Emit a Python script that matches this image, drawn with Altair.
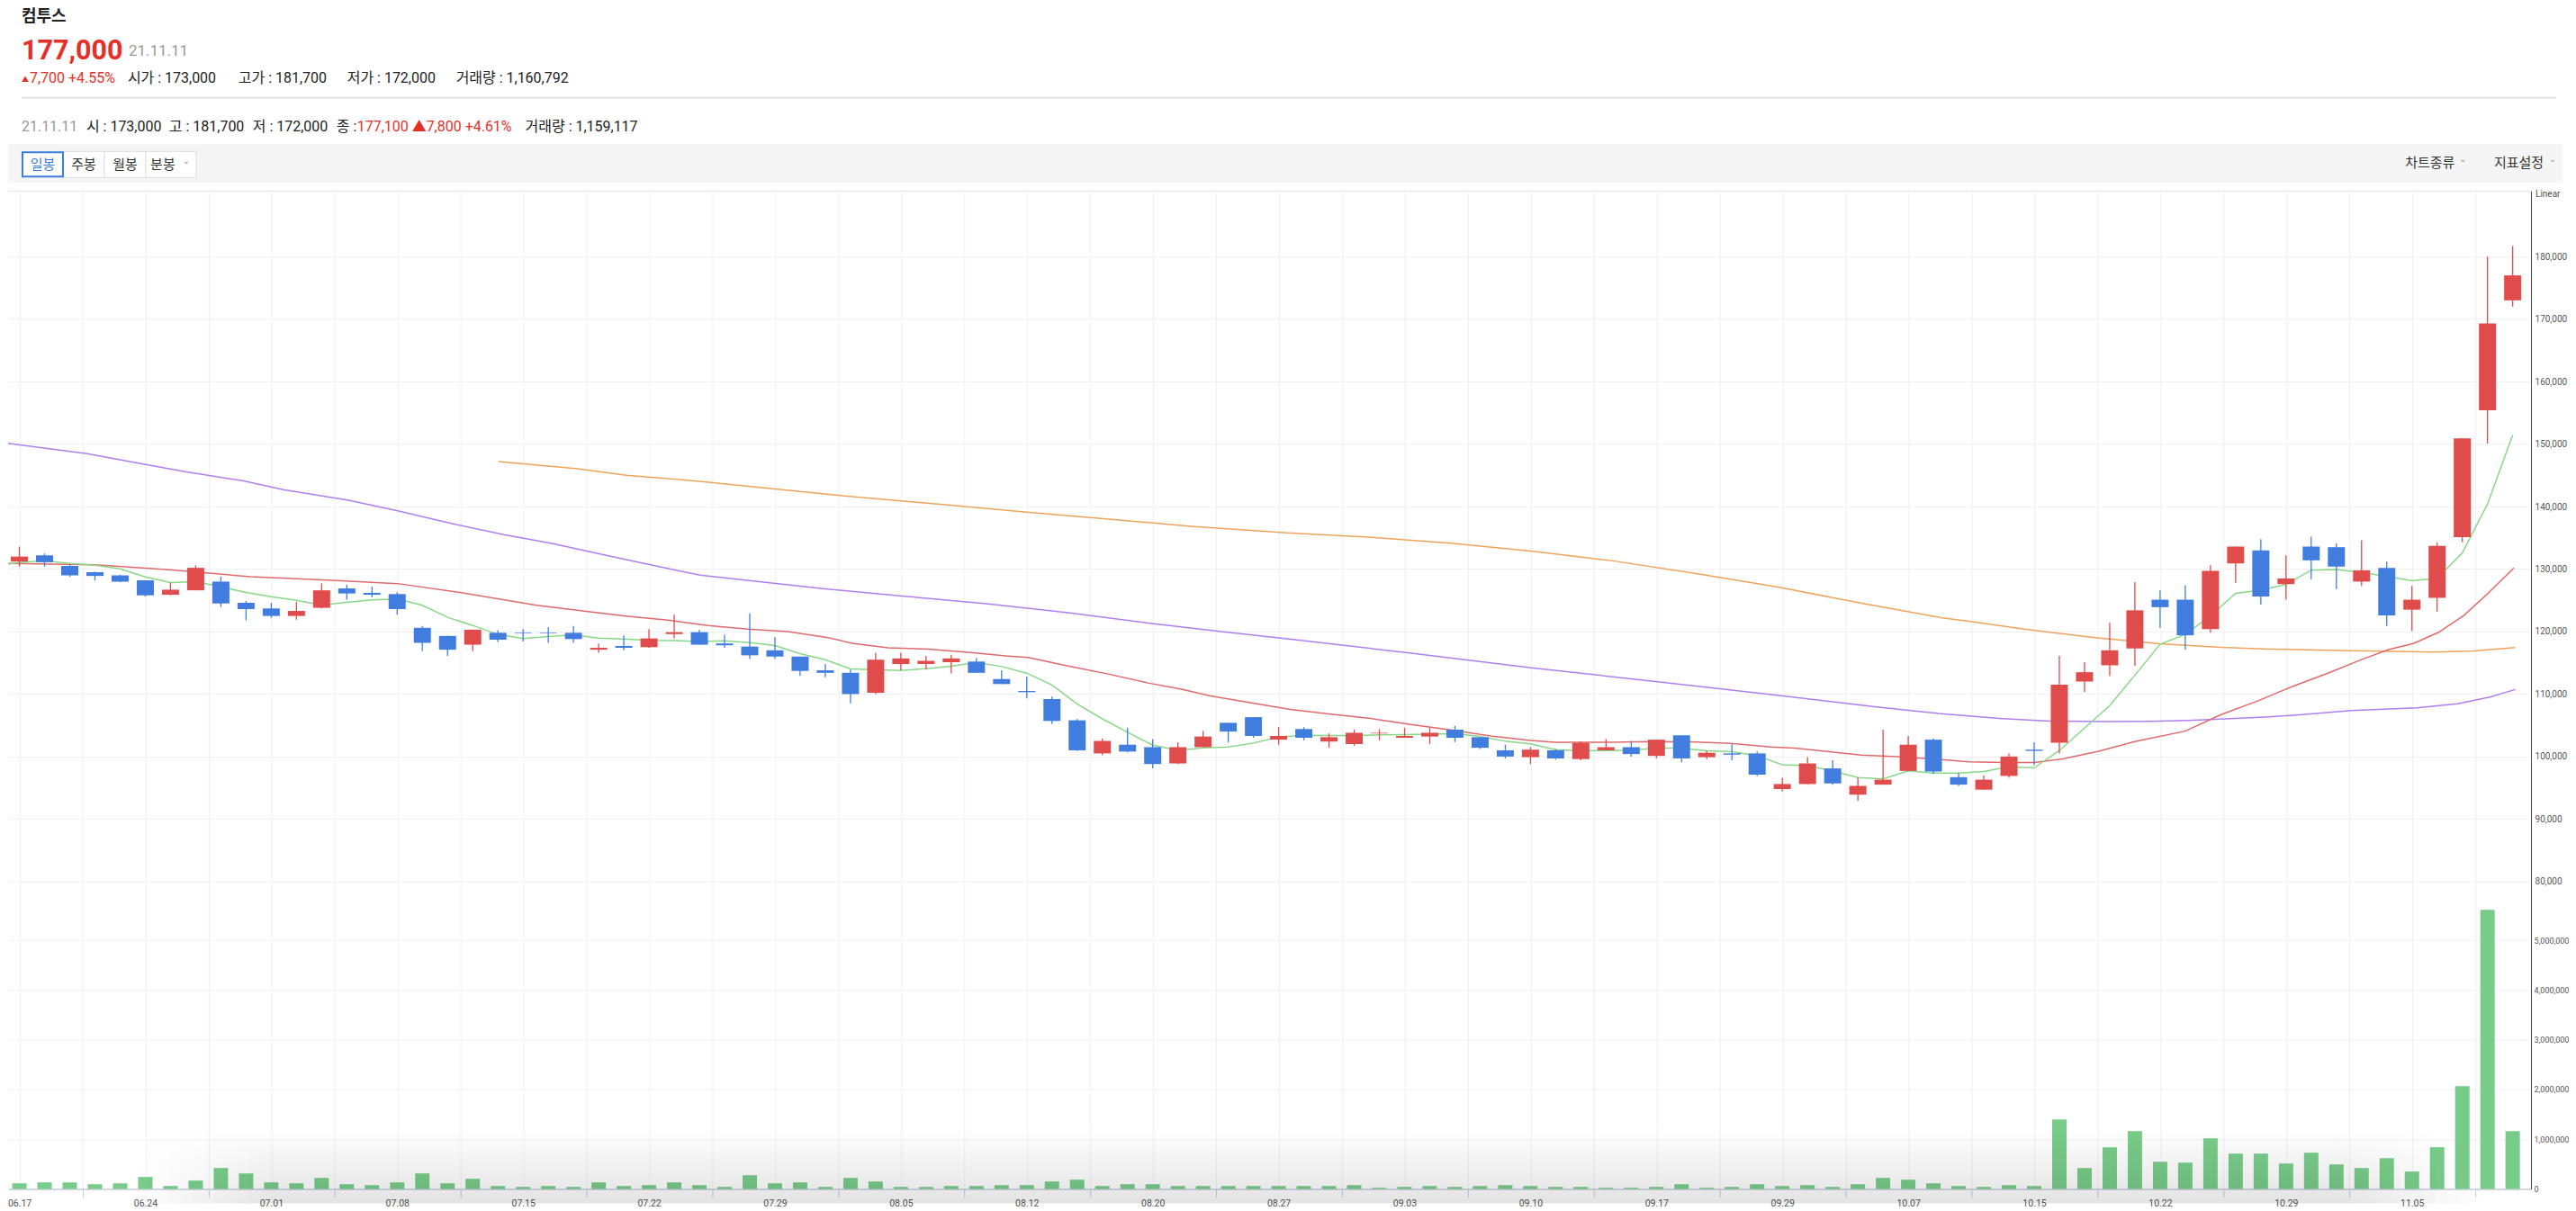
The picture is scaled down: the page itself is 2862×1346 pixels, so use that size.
import altair as alt
import pandas as pd
import numpy as np

# ---------------- data ----------------
opens = [131200, 132200, 130500, 129500, 129000, 128200, 125900, 126600, 128000, 124600,
         123700, 122500, 123800, 126900, 126200, 126000, 120600, 119300, 117900, 119800,
         119800, 119800, 119800, 117100, 117700, 117500, 119600, 119900, 118100, 117600,
         117000, 116000, 113800, 113400, 110200, 114800, 114800, 115100, 115200, 112400,
         110500, 109200, 105800, 100500, 101900, 101500, 98900, 101500, 105400, 106300,
         102700, 104400, 102400, 102000, 103700, 103000, 103200, 104300, 103100, 101000,
         99900, 101000, 99600, 101000, 101500, 100100, 103400, 99900, 100500, 100500,
         94800, 95600, 98100, 93900, 95500, 97700, 102700, 96700, 94700, 96900,
         101100, 102200, 112000, 114600, 117300, 125100, 125100, 120400, 130900, 133000,
         127600, 133600, 133500, 128000, 130200, 123500, 125400, 135100, 155400, 173000]
highs = [133600, 132500, 130700, 129600, 129100, 128200, 127800, 130600, 128800, 124900,
         124600, 124800, 127700, 127500, 127200, 126300, 120900, 119300, 120300, 120200,
         120400, 120700, 120900, 118100, 119400, 120400, 122700, 120300, 119500, 122900,
         119100, 116000, 114800, 113900, 116600, 116600, 116100, 116300, 115800, 113800,
         112800, 109600, 106000, 102900, 104600, 102800, 102300, 104100, 105400, 106300,
         104700, 104700, 103700, 104300, 104400, 104600, 104600, 104900, 103100, 101900,
         101500, 101200, 102400, 102800, 102500, 102700, 103400, 101000, 102000, 100800,
         96600, 99900, 99400, 96600, 104300, 103300, 102900, 97400, 97000, 100500,
         102300, 116100, 115100, 121400, 127900, 126600, 127400, 130600, 133600, 134800,
         132200, 135200, 134100, 134600, 131200, 127300, 134300, 150900, 180000, 181700]
lows = [130400, 130400, 128800, 128200, 127900, 125600, 125800, 126600, 123900, 121800,
        122200, 121900, 123700, 125100, 125500, 122700, 116900, 116100, 116900, 118300,
        118400, 118200, 118200, 116600, 117000, 117400, 118900, 117900, 117400, 115600,
        115600, 112900, 112700, 108500, 110000, 113800, 113900, 113300, 113400, 111600,
        109300, 105200, 100900, 100200, 100700, 98100, 98800, 101500, 102300, 103000,
        101900, 102600, 101400, 101700, 102600, 103000, 102000, 102300, 101200, 99700,
        98800, 99500, 99400, 101000, 100000, 99700, 99100, 99600, 99400, 96900,
        94400, 95500, 95500, 92900, 95500, 97700, 97200, 95300, 94700, 96600,
        98600, 100500, 110300, 112900, 114500, 120600, 117100, 119800, 127800, 124300,
        125100, 128400, 126800, 127300, 120900, 120100, 123200, 134300, 150100, 172000]
closes = [132000, 131100, 129000, 128900, 128000, 125800, 126700, 130200, 124500, 123600,
          122500, 123300, 126600, 126100, 125900, 123600, 118200, 117100, 120300, 118700,
          119700, 119700, 118800, 117400, 117400, 118900, 119900, 117900, 117800, 116200,
          116000, 113700, 113400, 110000, 115500, 115700, 115300, 115700, 113400, 111600,
          110300, 105700, 101000, 102500, 100800, 98800, 101500, 103200, 104000, 103300,
          103300, 103000, 103100, 103800, 103800, 103300, 103800, 103000, 101400, 100000,
          101100, 99700, 102200, 101500, 100400, 102700, 99700, 100600, 100300, 97100,
          95600, 98900, 95700, 95300, 96300, 101900, 97600, 95500, 96300, 100000,
          100900, 111500, 113500, 117000, 123400, 123900, 119400, 129700, 133600, 125600,
          128500, 131400, 130400, 129800, 122600, 125100, 133700, 150900, 169300, 177000]
volumes = [114000, 133000, 133000, 96000, 114000, 241000, 60000, 169000, 422000, 313000,
           133000, 114000, 223000, 96000, 78000, 133000, 313000, 114000, 205000, 60000,
           42000, 60000, 42000, 133000, 60000, 78000, 133000, 78000, 42000, 277000,
           114000, 133000, 42000, 223000, 151000, 42000, 42000, 60000, 60000, 78000,
           78000, 151000, 187000, 60000, 96000, 96000, 60000, 60000, 60000, 60000,
           60000, 60000, 60000, 78000, 24000, 42000, 60000, 42000, 60000, 78000,
           60000, 42000, 42000, 24000, 24000, 42000, 96000, 24000, 42000, 96000,
           60000, 78000, 42000, 96000, 223000, 187000, 114000, 60000, 42000, 78000,
           60000, 1398000, 422000, 837000, 1163000, 548000, 530000, 1018000, 711000, 711000,
           512000, 729000, 494000, 422000, 620000, 352000, 840000, 2066000, 5610000, 1160792]
date_labels = ["06.17", "06.24", "07.01", "07.08", "07.15", "07.22", "07.29", "08.05",
               "08.12", "08.20", "08.27", "09.03", "09.10", "09.17", "09.29", "10.07",
               "10.15", "10.22", "10.29", "11.05"]

ma5_x = [-0.56] + list(range(100))
ma5_v = [130770,
         131050, 131340, 130910, 130620, 130050, 128750, 127840, 127990, 127170, 126260,
         125590, 125010, 124250, 124680, 125060, 125200, 124200, 122280, 120980, 119550,
         118870, 119210, 119450, 118950, 118800, 118610, 118570, 118420, 118520, 118230,
         117750, 116460, 115500, 114020, 113880, 113780, 114070, 114450, 115070, 114400,
         113350, 111440, 108420, 106030, 103880, 101820, 101000, 101400, 101530, 102160,
         103120, 103410, 103360, 103360, 103460, 103510, 103600, 103650, 103220, 102450,
         102020, 101100, 100910, 100960, 101010, 101340, 101340, 100910, 100770, 100140,
         98700, 98560, 97700, 96650, 96410, 97700, 97370, 97370, 97610, 98370,
         98180, 100960, 104550, 108140, 113030, 117960, 119540, 122510, 126110, 126630,
         127540, 129840, 129940, 129460, 128840, 128140, 128530, 132590, 140380, 151470]

ma20_x = [-0.46, 3.01, 5.94, 9.18, 12.43, 15.02, 17.3, 20.54, 22.58, 24.16, 25.75, 27.34,
          28.93, 30.52, 32.11, 33.06, 34.49, 36.08, 37.67, 39.26, 40.05, 41.64, 43.23,
          44.82, 46.1, 47.29, 48.87, 50.46, 52.06, 53.65, 55.24, 56.83, 58.41, 60.0,
          60.96, 63.18, 64.77, 66.36, 67.95, 69.54, 70.5, 71.69, 73.13, 74.55, 75.98,
          77.41, 78.84, 79.99, 81.13, 82.56, 83.99, 86.0, 87.42, 88.85, 90.28, 91.71,
          93.04, 94.1, 95.06, 96.06, 97.07, 98.02, 99.05]
ma20_v = [130900, 130700, 129890, 128780, 128210, 127680, 126380, 124220, 123210, 122440,
          121820, 120960, 120380, 120000, 119040, 118130, 117420, 117180, 116700, 116080,
          115840, 114500, 113210, 111770, 110810, 109710, 108610, 107550, 106780, 106100,
          105140, 104280, 103310, 102590, 102300, 102300, 102400, 102350, 102110, 101530,
          101350, 100860, 100240, 100000, 99620, 99140, 99040, 99040, 99620, 100860,
          102400, 104070, 106710, 108860, 111260, 113410, 115590, 117140, 118080, 119880,
          122600, 126110, 130170]

ma60_x = [-0.46, 2.69, 4.96, 6.58, 8.86, 10.48, 13.07, 15.02, 17.3, 19.24, 21.19, 22.81,
          24.76, 27.03, 28.65, 31.9, 35.15, 38.39, 41.64, 44.88, 48.13, 50.33, 55.2, 60.1,
          64.96, 69.8, 73.74, 76.2, 78.6, 80.6, 82.8, 84.6, 86.1, 87.4, 89.33, 90.3,
          92.6, 95.2, 96.8, 98.1, 99.1]
ma60_v = [150140, 148460, 146780, 145580, 144140, 142700, 141020, 139340, 137180, 135500,
          134060, 132620, 130940, 129020, 128300, 126860, 125660, 124460, 123020, 121340,
          119810, 118860, 116570, 114180, 112020, 109800, 107950, 106900, 106100, 105680,
          105600, 105650, 105790, 105990, 106370, 106610, 107350, 107810, 108430, 109530,
          110730]

ma120_x = [19.02, 22.16, 24.1, 27.0, 30.28, 32.87, 36.77, 40.0, 43.25, 46.5, 50.33, 53.57,
           56.83, 60.1, 63.33, 66.58, 69.83, 73.1, 76.35, 77.41, 79.6, 82.42, 84.99, 87.42,
           89.33, 92.6, 95.83, 97.45, 99.1]
ma120_v = [147220, 146060, 145010, 144050, 142700, 141650, 140300, 139100, 138000, 136850,
           135790, 135110, 134150, 132860, 131280, 129270, 127110, 124570, 122180, 121650,
           120400, 119020, 118060, 117480, 117200, 116930, 116720, 116910, 117440]

# ---------------- styling ----------------
RED = "#e04b4b"
BLUE = "#407ddf"
VOLG = "#78cc89"
GRID = "#f0f0f0"
FONT = "Roboto, Noto Sans CJK KR"
HDR_RED = "#e5302a"

n = len(opens)
df = pd.DataFrame({"i": list(range(n)), "open": opens, "high": highs, "low": lows,
                   "close": closes, "vol": volumes})
df["dir"] = np.where(df["close"] >= df["open"], "up", "down")

PLOT_W = 2805
HDR_H = 204
PRICE_H = 768
VOL_H = 342

xs = alt.Scale(domain=[-0.27, 99.55], nice=False, zero=False)
grid_vals = [k * 2.5 for k in range(40)]
ys = alt.Scale(domain=[80000, 190500], nice=False, zero=False)
yv = alt.Scale(domain=[0, 6180000], nice=False)

x_axis_price = alt.Axis(values=grid_vals, grid=True, gridColor=GRID, labels=False,
                        ticks=False, domain=False, title=None)
label_list = ",".join("'%s'" % d for d in date_labels)
x_axis_vol = alt.Axis(values=grid_vals, grid=True, gridColor=GRID, title=None,
                      labelExpr="datum.value % 5 == 0 ? [" + label_list + "][datum.value / 5] : ''",
                      tickSize=9, tickColor={"condition": {"test": "datum.value % 5 == 0", "value": "transparent"},
                                             "value": "#c6cde3"},
                      domainColor="#c6cde3", domainWidth=1.5, labelPadding=2,
                      labelFont="Roboto", labelFontSize=10.5, labelColor="#555",
                      labelAngle=0, labelOverlap=False, labelFlush=False)
y_axis_price = alt.Axis(orient="right", values=list(range(80000, 190000, 10000)), format=",.0f",
                        grid=True, gridColor=GRID, ticks=False, labelPadding=4,
                        domainColor="#444", labelColor="#555", labelFontSize=10,
                        labelFont="Roboto", title=None)
y_axis_vol = alt.Axis(orient="right", values=[0, 1000000, 2000000, 3000000, 4000000, 5000000],
                      format=",.0f", grid=True, gridColor=GRID, ticks=False, labelPadding=3,
                      domainColor="#444", labelColor="#555", labelFontSize=9,
                      labelFont="Roboto", title=None)

color_enc = alt.Color("dir:N", scale=alt.Scale(domain=["up", "down"], range=[RED, BLUE]), legend=None)

one = pd.DataFrame({"k": [0]})


def txt(s, x, y, size=16, color="#222", weight="normal", align="left", baseline="alphabetic", font=FONT):
    return alt.Chart(one).mark_text(text=s, fontSize=size, color=color, fontWeight=weight,
                                    align=align, baseline=baseline, font=font).encode(
        x=alt.value(x), y=alt.value(y))


def box(x1, x2, y1, y2, fill, stroke=None, sw=1):
    kw = {"fill": fill}
    if stroke:
        kw.update(stroke=stroke, strokeWidth=sw)
    return alt.Chart(one).mark_rect(**kw).encode(
        x=alt.value(x1), x2=alt.value(x2), y=alt.value(y1), y2=alt.value(y2))


# ---------------- header ----------------
hdr_layers = [
    txt("컴투스", 15, 16, size=18, weight="bold"),
    txt("177,000", 15, 58, size=30.5, color=HDR_RED, weight="bold", font="Roboto"),
    txt("21.11.11", 134, 54, size=17, color="#999"),
    txt("▲", 15, 83, size=8, color=HDR_RED),
    txt("7,700 +4.55%", 24, 84, size=16, color=HDR_RED),
    txt("시가 : 173,000", 133, 84),
    txt("고가 : 181,700", 256, 84),
    txt("저가 : 172,000", 377, 84),
    txt("거래량 : 1,160,792", 498, 84),
    box(15, 2833, 99, 101, "#e2e2e6"),
    txt("21.11.11", 15, 138, color="#999"),
    txt("시 : 173,000", 87, 138),
    txt("고 : 181,700", 179, 138),
    txt("저 : 172,000", 272, 138),
    txt("종 : ", 365, 138),
    txt("177,100 ▲7,800 +4.61%", 388, 138, color=HDR_RED),
    txt("거래량 : 1,159,117", 575, 138),
    box(0, 2840, 152, 195, "#f5f5f5"),
    box(61, 107, 160, 189, "#ffffff", "#dddddd"),
    box(107, 153, 160, 189, "#ffffff", "#dddddd"),
    box(153, 209, 160, 189, "#ffffff", "#dddddd"),
    box(16, 61, 161, 188, "#ffffff", "#3b7ddd", 2),
    txt("일봉", 38.5, 175, size=15, color="#3b7ddd", align="center", baseline="middle"),
    txt("주봉", 84, 175, size=15, color="#333", align="center", baseline="middle"),
    txt("월봉", 130, 175, size=15, color="#333", align="center", baseline="middle"),
    txt("분봉", 172, 175, size=15, color="#333", align="center", baseline="middle"),
    txt("⌄", 198, 171, size=10, color="#999", align="center", baseline="middle", font="DejaVu Sans"),
    txt("차트종류", 2665, 173, size=15, color="#333", baseline="middle"),
    txt("⌄", 2729, 169, size=10, color="#999", align="center", baseline="middle", font="DejaVu Sans"),
    txt("지표설정", 2764, 173, size=15, color="#333", baseline="middle"),
    txt("⌄", 2829, 169, size=10, color="#999", align="center", baseline="middle", font="DejaVu Sans"),
]
header = alt.layer(*hdr_layers).properties(width=PLOT_W, height=HDR_H)

# ---------------- price panel ----------------
base = alt.Chart(df)
wicks = base.mark_rule(strokeWidth=1.3).encode(
    x=alt.X("i:Q", scale=xs, axis=x_axis_price),
    y=alt.Y("low:Q", scale=ys, axis=y_axis_price),
    y2="high:Q",
    color=color_enc)
bodies = base.mark_bar(size=19).encode(
    x=alt.X("i:Q", scale=xs, axis=x_axis_price),
    y=alt.Y("open:Q", scale=ys, axis=y_axis_price),
    y2="close:Q",
    color=color_enc)


def ma_line(xv, vv, color):
    d = pd.DataFrame({"x": xv, "v": vv})
    return alt.Chart(d).mark_line(color=color, strokeWidth=1.5, clip=True).encode(
        x=alt.X("x:Q", scale=xs, axis=x_axis_price),
        y=alt.Y("v:Q", scale=ys, axis=y_axis_price))


top_line = alt.Chart(one).mark_rule(color="#e6e6e6", strokeWidth=1).encode(y=alt.value(0))
linear_lbl = txt("Linear", 2810, 4, size=10, color="#555", baseline="middle", font="Roboto")

price = alt.layer(
    top_line,
    ma_line(ma120_x, ma120_v, "#eea45c"),
    ma_line(ma60_x, ma60_v, "#b07ef0"),
    ma_line(ma20_x, ma20_v, "#e06a6a"),
    ma_line(ma5_x, ma5_v, "#88d888"),
    wicks, bodies,
    linear_lbl,
).properties(width=PLOT_W, height=PRICE_H)

# ---------------- volume panel ----------------
vol_bars = alt.Chart(df).mark_bar(size=16, color=VOLG).encode(
    x=alt.X("i:Q", scale=xs, axis=x_axis_vol),
    y=alt.Y("vol:Q", scale=yv, axis=y_axis_vol),
)

# soft scroll-shadow at the bottom of the panel (decoration)
SHADE_TOP = 274
SHADE_BOT = 358
MAX_A = 0.11


def shade(x1, x2, alpha):
    st = [alt.GradientStop(offset=0, color="rgba(0,0,0,%.4f)" % alpha),
          alt.GradientStop(offset=1, color="rgba(0,0,0,0)")]
    return alt.Chart(one).mark_rect(
        color=alt.LinearGradient(gradient="linear", stops=st, x1=0, x2=0, y1=1, y2=0)
    ).encode(x=alt.value(x1), x2=alt.value(x2), y=alt.value(SHADE_TOP), y2=alt.value(SHADE_BOT))


shade_layers = [shade(292, 2592, MAX_A)]
STEPS = 12
for k in range(STEPS):
    a = MAX_A * (k + 0.5) / STEPS
    w = 150 / STEPS
    shade_layers.append(shade(142 + k * w, 142 + (k + 1) * w, a))
    w2 = 160 / STEPS
    shade_layers.append(shade(2752 - (k + 1) * w2, 2752 - k * w2, a))

vol = alt.layer(vol_bars, *shade_layers).properties(width=PLOT_W, height=VOL_H)

chart = alt.vconcat(header, price, vol, spacing=0, bounds="flush").properties(
    padding=0
).configure(font=FONT).configure_view(strokeWidth=0)

chart.save("out.html", embed_options={"renderer": "svg", "actions": False})
